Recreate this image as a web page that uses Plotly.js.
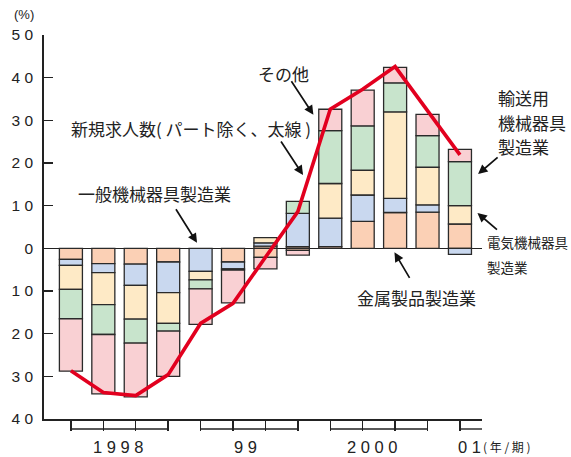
<!DOCTYPE html>
<html>
<head>
<meta charset="utf-8">
<script src="https://cdn.plot.ly/plotly-3.0.1.min.js"></script>
<style>
  html, body { margin: 0; padding: 0; background: #ffffff; }
  #chart { width: 571px; height: 457px; }
</style>
</head>
<body>
<div id="chart"></div>
<script>
// Quarters shown on the horizontal axis (1998 Q1 .. 2001 Q1)
const quarters = ['1998 I', '1998 II', '1998 III', '1998 IV',
                  '1999 I', '1999 II', '1999 III', '1999 IV',
                  '2000 I', '2000 II', '2000 III', '2000 IV',
                  '2001 I'];
const yearLabels = ['1 9 9 8', '9 9', '2 0 0 0', '0 1'];
const yearLabelPos = [1.45, 5.37, 9.29, 11.88];
const yearFirstQuarter = [0, 4, 8, 12];
const yearLastQuarter = [3, 7, 11, null];

// Contribution by industry (percentage points): positive and negative parts
const metalUp        = [null, null, null, null, null, null, 0.5, 0.4, 0.4, 6.3, 8.4, 8.5, 5.7];
const metalDown      = [-2.6, -3.6, -3.7, -3.2, null, -3.2, -2.1, -0.5, null, null, null, null, null];
const generalUp      = [null, null, null, null, null, null, 0.8, 7.8, 6.7, 6.2, 3.3, 1.7, null];
const generalDown    = [-1.4, -2.1, -5.0, -7.2, -5.4, -1.6, null, null, null, null, null, null, -1.4];
const electricUp     = [null, null, null, null, null, null, 1.2, null, 8.1, 5.8, 20.3, 8.8, 4.3];
const electricDown   = [-5.6, -7.5, -7.9, -7.2, -2.0, -0.3, null, null, null, null, null, null, null];
const transportUp    = [null, null, null, null, null, null, null, 2.8, 12.4, 10.4, 6.8, 7.4, 10.3];
const transportDown  = [-6.9, -7.0, -5.6, -1.8, -2.1, null, null, null, null, null, null, null, null];
const otherUp        = [null, null, null, null, null, null, null, null, 5.0, 8.4, 3.6, 5.0, 2.9];
const otherDown      = [-12.3, -13.9, -12.6, -10.6, -8.3, -7.7, -2.7, -1.1, null, null, null, null, null];

// New job offers excluding part-time, year-on-year change (%)
const newOffers = [-28.7, -33.8, -34.5, -29.6, -17.6, -12.9, -2.1, 8.6, 32.6, 37.3, 42.6, 32.1, 21.9];

// Y axis tick values and their printed labels
const yTickVals = [-40, -30, -20, -10, 0, 10, 20, 30, 40, 50];
const yTickText = ['4 0', '3 0', '2 0', '1 0', '0', '1 0', '2 0', '3 0', '4 0', '5 0'];

const COLORS = {
  metal: '#fbd0b5',
  general: '#c9d8ef',
  electric: '#feeac6',
  transport: '#c8e4cc',
  other: '#f9d0d3'
};

const X_MIN = -0.83, X_MAX = 12.68;
const MARGIN = { l: 44, r: 89, t: 35, b: 38 };
const PLOT_H = 457 - MARGIN.t - MARGIN.b;
const idx = quarters.map((q, i) => i);
const xPaper = i => (i - X_MIN) / (X_MAX - X_MIN);

const jp = 'Noto Sans CJK JP, sans-serif';
const num = 'Liberation Sans, Arial, sans-serif';
const ink = '#222222';

function barTrace(name, values, color) {
  return {
    type: 'bar', name: name, x: idx, y: values, width: 0.71,
    marker: { color: color, line: { color: '#2a2a2a', width: 1.3 } },
    hoverinfo: 'skip'
  };
}

const traces = [
  barTrace('金属製品製造業', metalUp, COLORS.metal),
  barTrace('金属製品製造業', metalDown, COLORS.metal),
  barTrace('一般機械器具製造業', generalUp, COLORS.general),
  barTrace('一般機械器具製造業', generalDown, COLORS.general),
  barTrace('電気機械器具製造業', electricUp, COLORS.electric),
  barTrace('電気機械器具製造業', electricDown, COLORS.electric),
  barTrace('輸送用機械器具製造業', transportUp, COLORS.transport),
  barTrace('輸送用機械器具製造業', transportDown, COLORS.transport),
  barTrace('その他', otherUp, COLORS.other),
  barTrace('その他', otherDown, COLORS.other),
  {
    type: 'scatter', mode: 'lines', name: '新規求人数', x: idx, y: newOffers,
    line: { color: '#e2001f', width: 3.6 }, hoverinfo: 'skip'
  }
];

// Bracket-style year groups under the horizontal axis
const bracketY = -10 / PLOT_H;
const shapes = yearFirstQuarter.map((first, k) => ({
  type: 'line', xref: 'paper', yref: 'paper',
  x0: xPaper(first),
  x1: yearLastQuarter[k] === null ? 1 : xPaper(yearLastQuarter[k]),
  y0: bracketY, y1: bracketY,
  line: { color: ink, width: 1.4 }
}));

const yPx = py => (457 - MARGIN.b - py) / PLOT_H;
const xPx = px => (px - MARGIN.l) / (571 - MARGIN.l - MARGIN.r);

function label(text, px, py, size) {
  return {
    xref: 'paper', yref: 'paper', x: xPx(px), y: yPx(py),
    xanchor: 'left', yanchor: 'middle', showarrow: false,
    text: text, font: { family: jp, size: size, color: ink }
  };
}

function pointer(x, y, ax, ay) {
  return {
    xref: 'x', yref: 'y', x: x, y: y, ax: ax, ay: ay, text: '',
    showarrow: true, arrowhead: 2, arrowsize: 1.1, arrowwidth: 1.7,
    arrowcolor: '#111111', standoff: 0
  };
}

const annotations = [
  { xref: 'paper', yref: 'paper', x: xPx(12), y: yPx(14), xanchor: 'left', yanchor: 'middle',
    showarrow: false, text: '(%)', font: { family: num, size: 13, color: ink } },

  label('新規求人数( パート除く、太線 )', 69, 128, 17),
  label('その他', 256, 73, 17),
  label('一般機械器具製造業', 76, 193, 17),
  label('輸送用', 496, 97, 17),
  label('機械器具', 496, 122, 17),
  label('製造業', 496, 146, 17),
  label('電気機械器具', 485, 242, 13.5),
  label('製造業', 485, 267, 13.5),
  label('金属製品製造業', 355, 297, 17),

  pointer(7.16, 17.2, -23, -35),
  pointer(7.48, 31.3, -23, -35),
  pointer(3.89, 1.3, -22, -35),
  pointer(12.56, 17.4, 21, -18),
  pointer(12.54, 8.3, 21, 18),
  pointer(9.98, -0.94, 16, 27)
];

yearLabels.forEach((t, k) => {
  annotations.push({
    xref: 'x', yref: 'paper', x: yearLabelPos[k], y: yPx(447),
    xanchor: k === 3 ? 'left' : 'center', yanchor: 'middle', showarrow: false,
    text: t, font: { family: num, size: 16.5, color: ink }
  });
});
annotations.push({
  xref: 'paper', yref: 'paper', x: xPx(481), y: yPx(446),
  xanchor: 'left', yanchor: 'middle', showarrow: false,
  text: '( 年 / 期 )', font: { family: jp, size: 12, color: ink }
});

const layout = {
  width: 571, height: 457,
  margin: MARGIN,
  paper_bgcolor: '#ffffff', plot_bgcolor: '#ffffff',
  barmode: 'relative', showlegend: false,
  xaxis: {
    range: [X_MIN, X_MAX], showgrid: false, zeroline: false,
    showline: true, linecolor: ink, linewidth: 1.8,
    ticks: 'outside', tickmode: 'array', tickvals: idx, ticklen: 10,
    tickwidth: 1.4, tickcolor: ink, showticklabels: false, fixedrange: true
  },
  yaxis: {
    range: [-40, 50], showgrid: false,
    tickmode: 'array', tickvals: yTickVals, ticktext: yTickText,
    ticks: 'inside', ticklen: 9, tickwidth: 1.6, tickcolor: ink,
    showline: true, linecolor: ink, linewidth: 1.8,
    zeroline: true, zerolinecolor: ink, zerolinewidth: 1.6,
    tickfont: { family: num, size: 15.5, color: ink },
    ticklabelstandoff: 6, fixedrange: true
  },
  shapes: shapes,
  annotations: annotations
};

Plotly.newPlot('chart', traces, layout, { staticPlot: true, displayModeBar: false });
</script>
</body>
</html>
